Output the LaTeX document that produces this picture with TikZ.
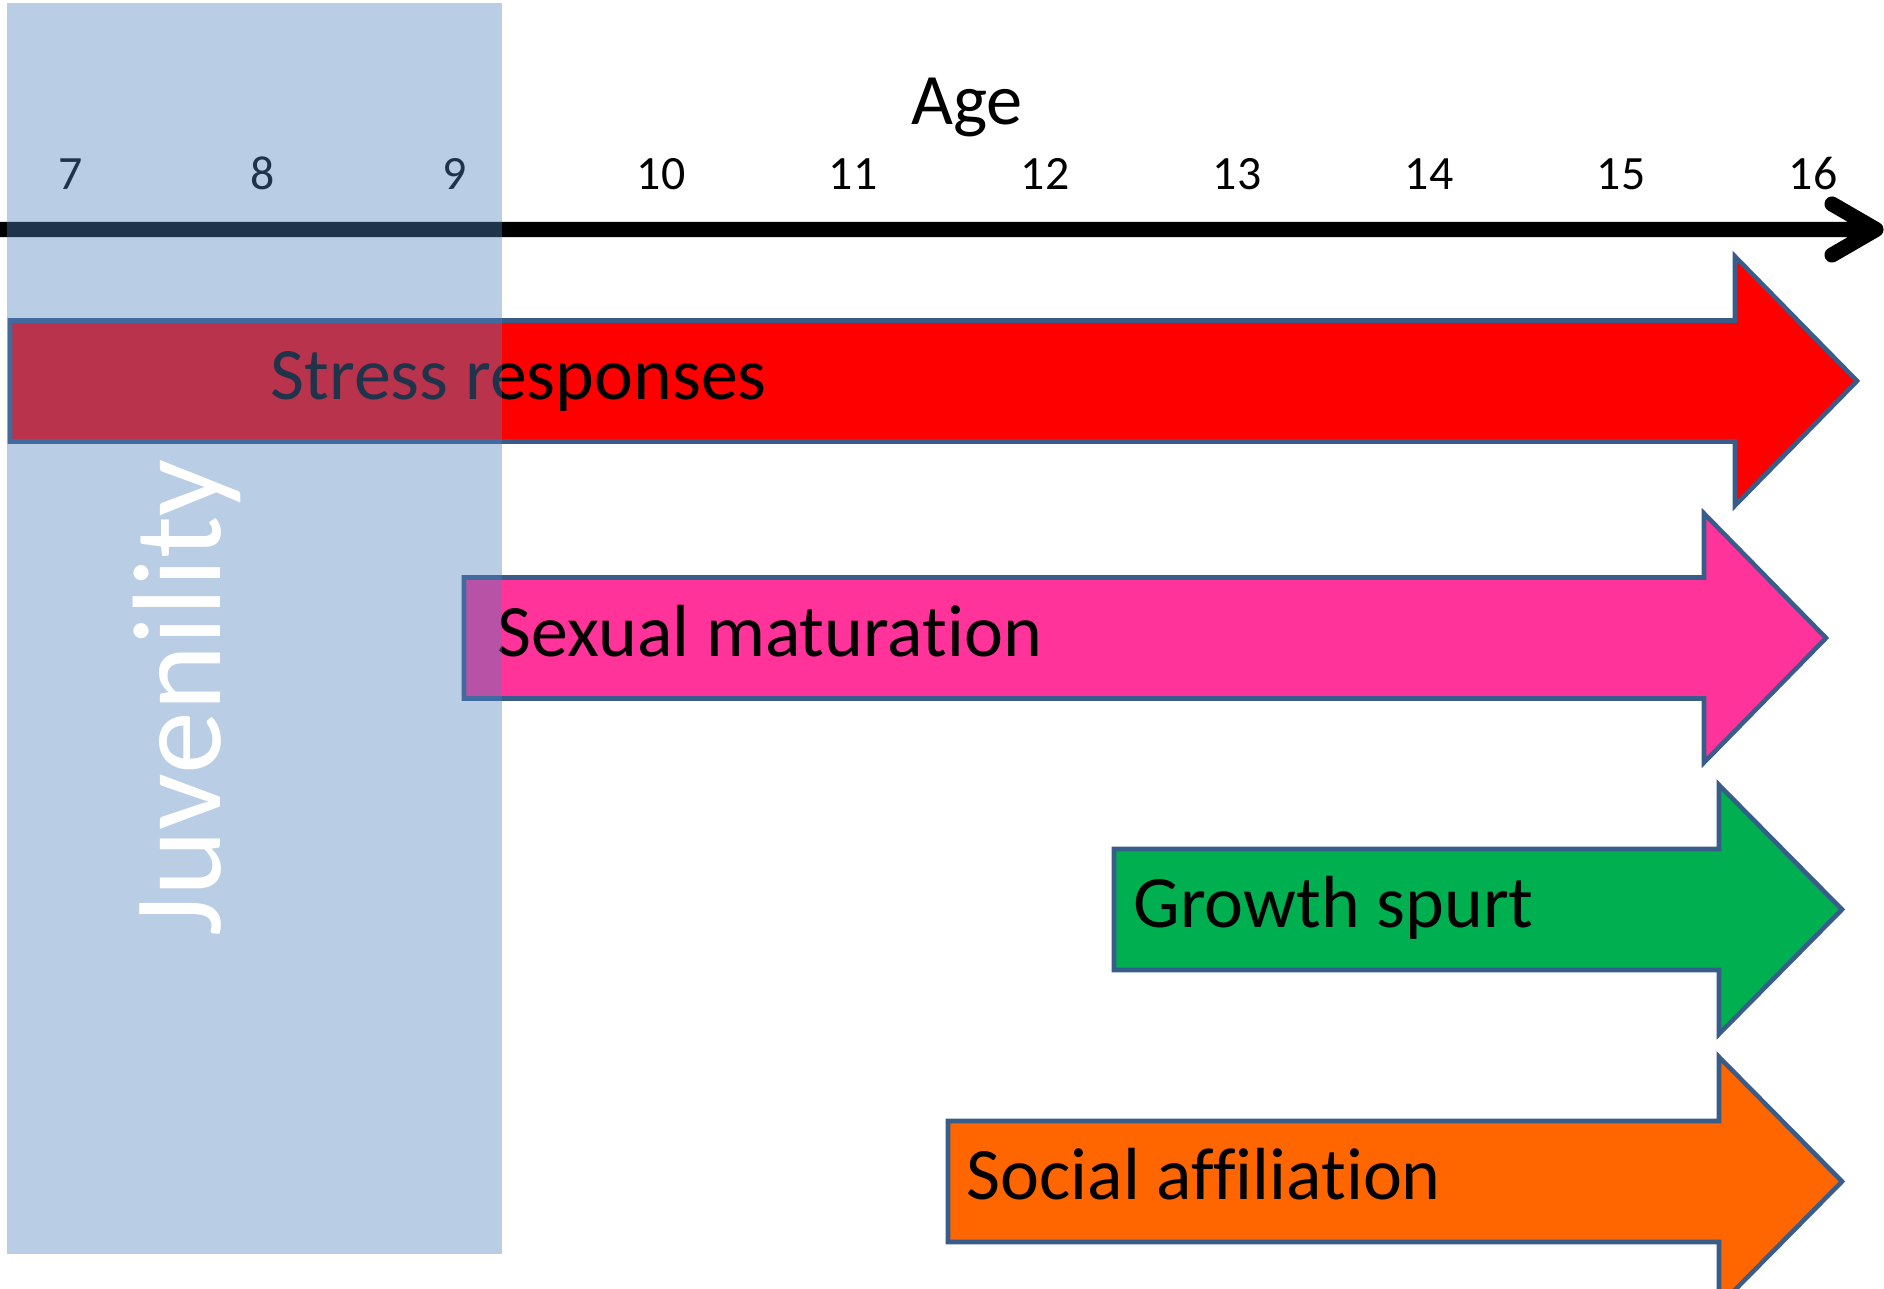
\documentclass[tikz,border=0pt]{standalone}
\usepackage{fontspec}
\setmainfont{Carlito}[Ligatures=NoCommon]
\definecolor{outline}{HTML}{385D8A}
\definecolor{juvblue}{HTML}{4F81BD}
\definecolor{stressred}{HTML}{FF0000}
\definecolor{sexpink}{HTML}{FF3399}
\definecolor{growgreen}{HTML}{00B050}
\definecolor{socorange}{HTML}{FF6600}
\tikzset{
  phase/.style={draw=outline, line width=1.3pt, line join=miter},
  phaselabel/.style={anchor=base west, inner sep=0pt, font=\fontsize{21}{25}\selectfont},
  agelabel/.style={anchor=base, inner sep=0pt, font=\fontsize{13.6}{16}\selectfont}
}
\begin{document}
\begin{tikzpicture}[x=0.01cm, y=-0.01cm]
        \useasboundingbox (0,0) rectangle (1884,1289);
        % Achse
        \draw[line width=4.3pt, line cap=round, line join=round]
        (0,229.5) -- (1876,229.5)
        (1832,204) -- (1876,229.5) -- (1832,255);
        \node[anchor=base, inner sep=0pt, font=\fontsize{20.6}{24}\selectfont] (age) at (967,125) {Age};
        \foreach \a/\x in {7/71, 8/263, 9/455, 10/661, 11/853, 12/1045, 13/1237, 14/1429, 15/1621, 16/1813}
          \node[agelabel] (t\a) at (\x,190) {\a};
        % Pfeile
        \draw[phase, fill=stressred]
        (10,320.5) -- (1735,320.5) -- (1735,256.5) -- (1857,381)
        -- (1735,505.5) -- (1735,441.5) -- (10,441.5) -- cycle;
        \draw[phase, fill=sexpink]
        (464,577.5) -- (1704,577.5) -- (1704,513.5) -- (1826,638)
        -- (1704,762.5) -- (1704,698.5) -- (464,698.5) -- cycle;
        \draw[phase, fill=growgreen]
        (1114,849) -- (1719,849) -- (1719,785) -- (1842,909.5)
        -- (1719,1034) -- (1719,970) -- (1114,970) -- cycle;
        \draw[phase, fill=socorange]
        (948,1121) -- (1719,1121) -- (1719,1057) -- (1842,1181.5)
        -- (1719,1306) -- (1719,1242) -- (948,1242) -- cycle;
        % Beschriftung
        \node[phaselabel] (stress) at (270,400) {Stress responses};
        \node[phaselabel] (sexual) at (497,657) {Sexual maturation};
        \node[phaselabel] (growth) at (1133,928) {Growth spurt};
        \node[phaselabel] (social) at (966,1200) {Social affiliation};
        % Juvenilitaet
        \fill[juvblue, opacity=0.4] (7,3) rectangle (502,1254);
        \node[rotate=90, anchor=base, inner sep=0pt, text=white, font=\fontsize{35.8}{40}\selectfont] (juv) at (220,698) {Juvenility};
    \end{tikzpicture}
\end{document}
